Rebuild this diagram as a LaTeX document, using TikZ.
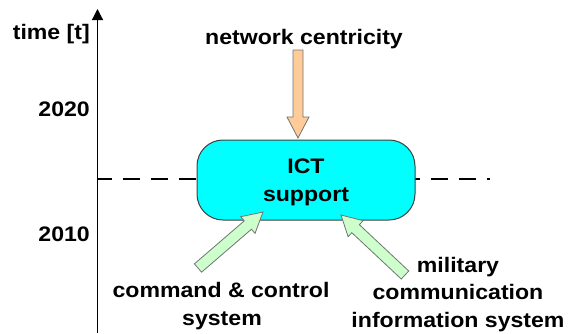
\documentclass[tikz,border=0pt]{standalone}
\usepackage{fontspec}
\setmainfont{Liberation Sans}[FakeStretch=1.1]
\usetikzlibrary{calc,arrows.meta}
\definecolor{ictcyan}{RGB}{0,255,255}
\definecolor{orfill}{RGB}{255,204,153}
\definecolor{grfill}{RGB}{204,255,204}
\tikzset{
  lbl/.style={font=\fontsize{21}{27}\selectfont\bfseries, inner sep=0pt, anchor=base},
  axisline/.style={line width=1.3pt, -{Triangle[length=11pt,width=11pt]}},
  dashline/.style={line width=2pt, dash pattern=on 17pt off 11pt, dash phase=3pt},
  ictbox/.style={draw=black!75, line width=1pt, fill=ictcyan, rounded corners=26pt,
    minimum width=218pt, minimum height=80pt, inner sep=0pt},
  orangearrow/.style={fill=orfill, draw=black!55, line width=0.8pt},
  greenarrow/.style={fill=grfill, draw=black!55, line width=0.8pt},
}
\newcommand{\blockarrow}[6]{% tail, tip, half shaft, half head, head length, style
  \coordinate (ba-h) at ($(#2)!#5!(#1)$);
  \draw[#6] ($(#1)!#3!90:(#2)$) -- ($(ba-h)!#3!90:(#2)$) -- ($(ba-h)!#4!90:(#2)$)
    -- (#2) -- ($(ba-h)!#4!-90:(#2)$) -- ($(ba-h)!#3!-90:(#2)$) -- ($(#1)!#3!-90:(#2)$) -- cycle;
}
\begin{document}
\begin{tikzpicture}[x=1pt,y=-1pt]
\useasboundingbox (0,0) rectangle (568,333);
% axis
\coordinate (axb) at (97.5,333);
\coordinate (axt) at (97.5,9);
\draw[axisline] (axb) -- (axt);
\node[lbl, anchor=base east] (time) at (90,39) {time [t]};
\node[lbl, anchor=base east] (y2020) at (90,116) {2020};
\node[lbl, anchor=base east] (y2010) at (90,241) {2010};
% dashed line
\coordinate (dl) at (97.5,179);
\coordinate (dr) at (490,179);
\draw[dashline] (dl) -- (dr);
% box
\node[ictbox] (box) at (306,180) {};
\node[lbl] (ict) at (306,173) {ICT};
\node[lbl] (sup) at (306,201) {support};
% top arrow
\node[lbl] (net) at (304,44) {network centricity};
\coordinate (ot) at (298,50);
\coordinate (op) at (298,138);
\blockarrow{ot}{op}{5pt}{11pt}{21pt}{orangearrow}
% green arrows
\coordinate (gl1) at (198,268);
\coordinate (gl2) at (263,212);
\blockarrow{gl1}{gl2}{5.5pt}{11pt}{20pt}{greenarrow}
\coordinate (gr1) at (405,275);
\coordinate (gr2) at (341,215);
\blockarrow{gr1}{gr2}{5.5pt}{11pt}{20pt}{greenarrow}
% labels
\node[lbl] (cc1) at (221,297) {command \& control};
\node[lbl] (cc2) at (222,325) {system};
\node[lbl] (m1) at (458,272) {military};
\node[lbl] (m2) at (458,299) {communication};
\node[lbl] (m3) at (458,327) {information system};
\end{tikzpicture}
\end{document}
